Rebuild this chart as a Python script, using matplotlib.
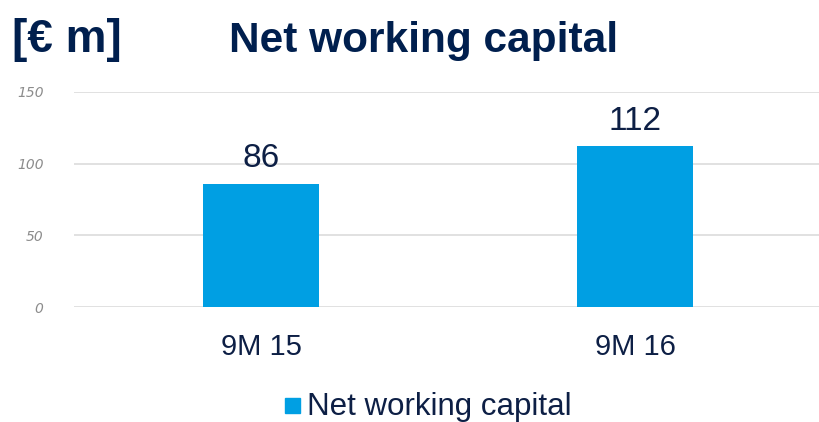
import matplotlib

matplotlib.use("Agg")
import matplotlib.pyplot as plt
from matplotlib.patches import Rectangle

categories = ["9M 15", "9M 16"]
values = [86, 112]
series_name = "Net working capital"
y_ticks = [0, 50, 100, 150]

BAR_COLOR = "#009fe3"
NAVY = "#0d1f45"
TITLE_NAVY = "#001f4e"

fig = plt.figure(figsize=(8.19, 4.22), dpi=100)
ax = fig.add_axes([0.0904, 0.2725, 0.9096 + 0.004, 0.5095])

x = range(len(categories))
bars = ax.bar(x, values, width=0.31, color=BAR_COLOR, zorder=3)
ax.set_xlim(-0.5, len(categories) - 0.5)
ax.set_ylim(0, 150)

for rect, v in zip(bars, values):
    ax.annotate(str(v), (rect.get_x() + rect.get_width() / 2, v),
                xytext=(0, 12), textcoords="offset points",
                ha="center", va="baseline", fontsize=24, color=NAVY,
                family="Liberation Sans")

ax.set_yticks(y_ticks)
ax.set_yticklabels([str(t) for t in y_ticks], fontsize=10, color="#8c8c8c",
                   style="italic", family="DejaVu Sans")
ax.set_xticks(list(x))
ax.set_xticklabels(categories, fontsize=21, color=NAVY, family="Liberation Sans")
ax.tick_params(axis="y", length=0, pad=22)
ax.tick_params(axis="x", length=0, pad=19)

ax.grid(axis="y", color="#d9d9d9", linewidth=1.1, zorder=0)
for s in ax.spines.values():
    s.set_visible(False)

# titles
fig.text(12 / 819, 1 - 52 / 422, "[€ m]", fontsize=33, fontweight="bold",
         color=TITLE_NAVY, family="Liberation Sans", va="baseline")
fig.text(229 / 819, 1 - 52 / 422, "Net working capital", fontsize=30.5,
         fontweight="bold", color=TITLE_NAVY, family="Liberation Sans",
         va="baseline")

# legend
fig.patches.append(Rectangle((285 / 819, 1 - 413 / 422), 15 / 819, 15 / 422,
                             transform=fig.transFigure, color=BAR_COLOR,
                             figure=fig))
fig.text(307 / 819, 1 - 415 / 422, series_name, fontsize=22.5, color=NAVY,
         family="Liberation Sans", va="baseline")

fig.savefig("out.png", dpi=100)
